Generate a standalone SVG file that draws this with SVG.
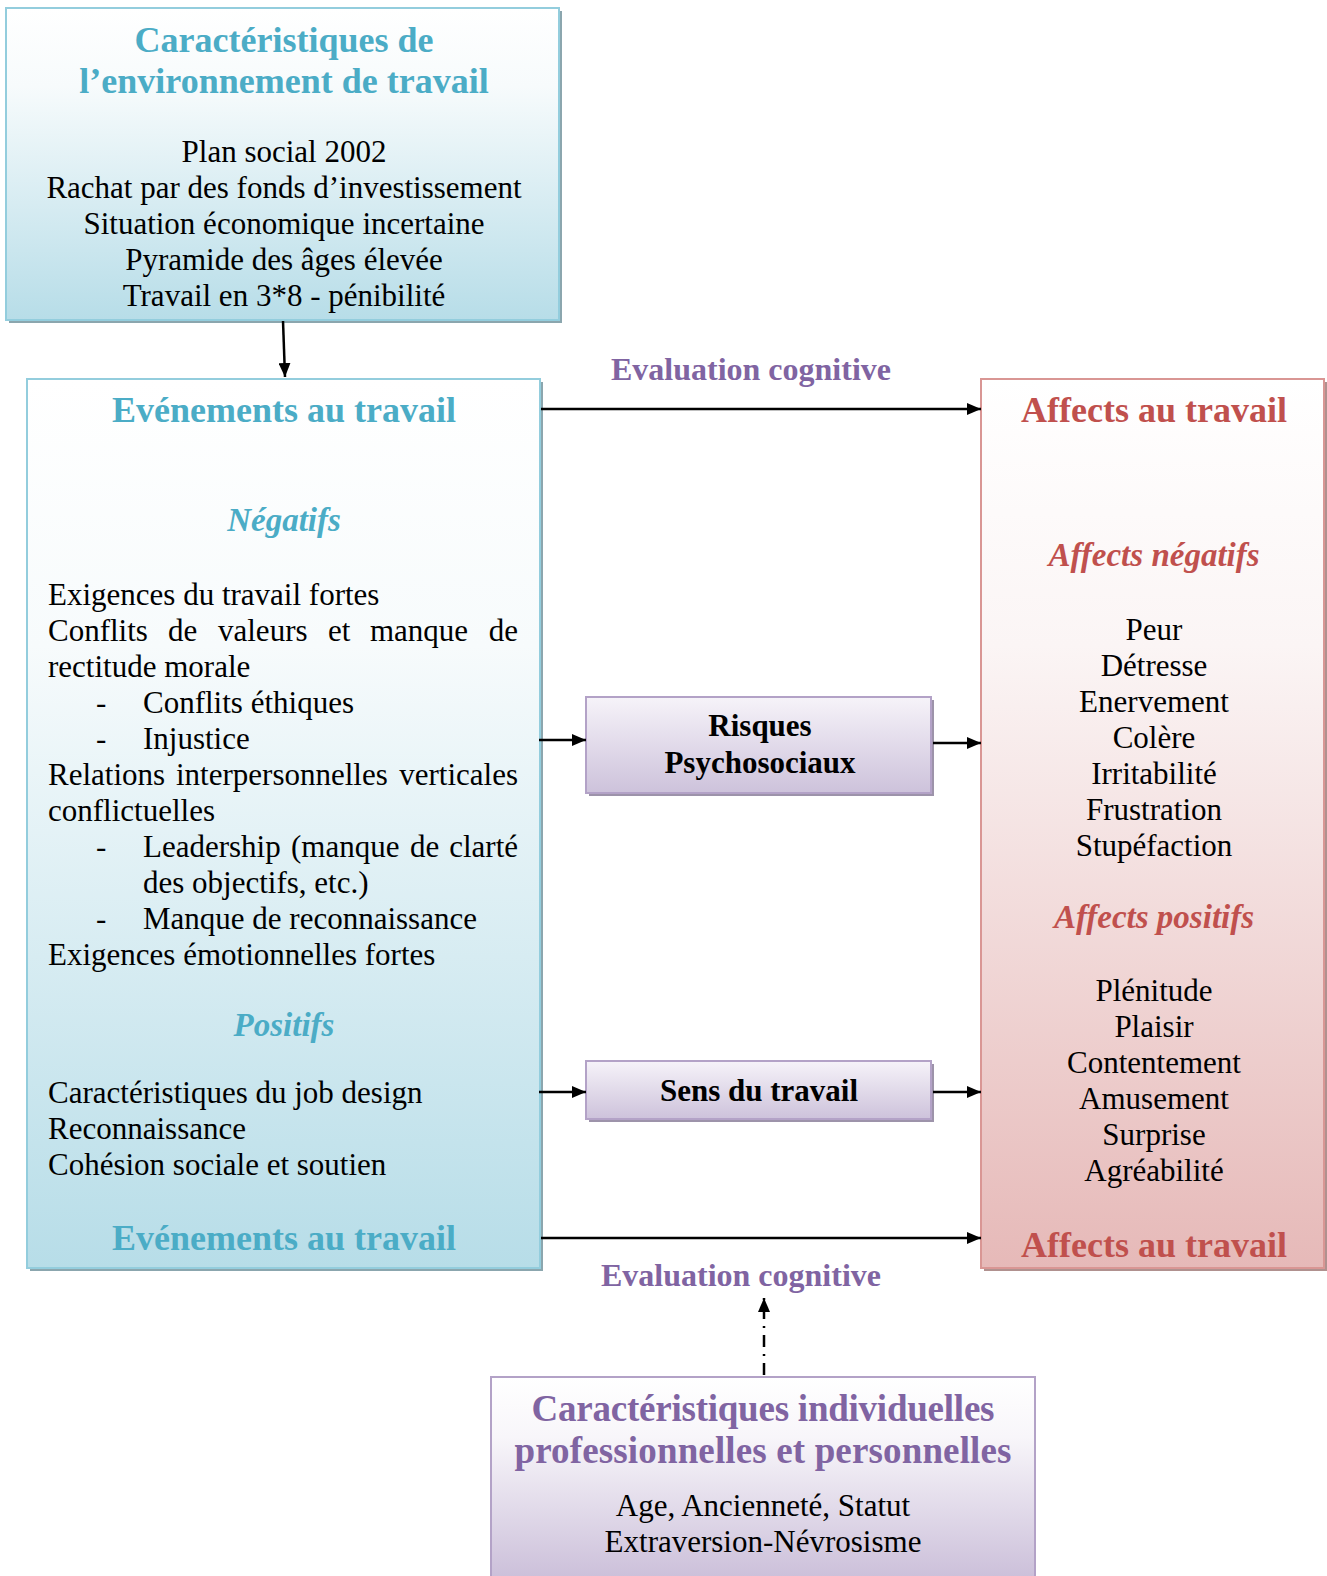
<svg xmlns="http://www.w3.org/2000/svg" width="1327" height="1576" viewBox="0 0 1327 1576">
<style>
text{font-family:"Liberation Serif","Times New Roman",serif;}
.body{font-size:31px;fill:#000;}
.c{text-anchor:middle;}
.e{text-anchor:end;}
.tb{font-size:36px;font-weight:bold;fill:#4BACC6;}
.tr{font-size:36px;font-weight:bold;fill:#C0504D;}
.tp{font-size:37px;font-weight:bold;fill:#8064A2;}
.sb{font-size:33px;font-weight:bold;font-style:italic;fill:#4BACC6;}
.sr{font-size:33px;font-weight:bold;font-style:italic;fill:#C0504D;}
.ev{font-size:32px;font-weight:bold;fill:#8064A2;}
.bx{font-size:31px;font-weight:bold;fill:#000;}
.conn{stroke:#000;stroke-width:2.5;fill:none;}
</style>
<defs>
<linearGradient id="gBlue1" x1="0" y1="0" x2="0" y2="1">
<stop offset="0" stop-color="#ffffff"/><stop offset="0.25" stop-color="#f7fbfc"/><stop offset="1" stop-color="#b7dde8"/>
</linearGradient>
<linearGradient id="gBlue2" x1="0" y1="0" x2="0" y2="1">
<stop offset="0" stop-color="#ffffff"/><stop offset="0.3" stop-color="#f7fbfc"/><stop offset="1" stop-color="#b7dde8"/>
</linearGradient>
<linearGradient id="gRed" x1="0" y1="0" x2="0" y2="1">
<stop offset="0" stop-color="#ffffff"/><stop offset="0.3" stop-color="#fbf5f5"/><stop offset="1" stop-color="#e6b9b8"/>
</linearGradient>
<linearGradient id="gPur" x1="0" y1="0" x2="0" y2="1">
<stop offset="0" stop-color="#f6f3f9"/><stop offset="1" stop-color="#cdc2db"/>
</linearGradient>
<linearGradient id="gPur2" x1="0" y1="0" x2="0" y2="1">
<stop offset="0" stop-color="#ffffff"/><stop offset="0.3" stop-color="#f8f6fa"/><stop offset="1" stop-color="#ccc0da"/>
</linearGradient>
<marker id="ah" markerUnits="userSpaceOnUse" markerWidth="14" markerHeight="12" refX="14" refY="6" orient="auto">
<path d="M0,0 L14,6 L0,12 z" fill="#000"/>
</marker>
</defs>

<g id="env">
<rect x="9" y="11" width="553" height="312" fill="#8ba6ae"/>
<rect x="6" y="8" width="553" height="312" fill="url(#gBlue1)" stroke="#93cddd" stroke-width="2"/>
<text class="tb c" x="284" y="52">Caractéristiques de</text>
<text class="tb c" x="284" y="93">l’environnement de travail</text>
<text class="body c" x="284" y="162">Plan social 2002</text>
<text class="body c" x="284" y="198">Rachat par des fonds d’investissement</text>
<text class="body c" x="284" y="234">Situation économique incertaine</text>
<text class="body c" x="284" y="270">Pyramide des âges élevée</text>
<text class="body c" x="284" y="306">Travail en 3*8 - pénibilité</text>
</g>

<g id="evenements">
<rect x="30" y="382" width="513" height="889" fill="#8ba6ae"/>
<rect x="27" y="379" width="513" height="889" fill="url(#gBlue2)" stroke="#93cddd" stroke-width="2"/>
<text class="tb c" x="284" y="422">Evénements au travail</text>
<text class="sb c" x="284" y="531">Négatifs</text>
<text class="body" x="48" y="605">Exigences du travail fortes</text>
<text class="body" x="48" y="641">Conflits</text>
<text class="body" x="168" y="641">de</text>
<text class="body" x="218" y="641">valeurs</text>
<text class="body" x="328" y="641">et</text>
<text class="body" x="370" y="641">manque</text>
<text class="body e" x="518" y="641">de</text>
<text class="body" x="48" y="677">rectitude morale</text>
<text class="body" x="96" y="713">-</text>
<text class="body" x="143" y="713">Conflits éthiques</text>
<text class="body" x="96" y="749">-</text>
<text class="body" x="143" y="749">Injustice</text>
<text class="body" x="48" y="785">Relations</text>
<text class="body" x="176" y="785">interpersonnelles</text>
<text class="body e" x="518" y="785">verticales</text>
<text class="body" x="48" y="821">conflictuelles</text>
<text class="body" x="96" y="857">-</text>
<text class="body" x="143" y="857">Leadership</text>
<text class="body" x="291" y="857">(manque</text>
<text class="body" x="410" y="857">de</text>
<text class="body e" x="518" y="857">clarté</text>
<text class="body" x="143" y="893">des objectifs, etc.)</text>
<text class="body" x="96" y="929">-</text>
<text class="body" x="143" y="929">Manque de reconnaissance</text>
<text class="body" x="48" y="965">Exigences émotionnelles fortes</text>
<text class="sb c" x="284" y="1036">Positifs</text>
<text class="body" x="48" y="1103">Caractéristiques du job design</text>
<text class="body" x="48" y="1139">Reconnaissance</text>
<text class="body" x="48" y="1175">Cohésion sociale et soutien</text>
<text class="tb c" x="284" y="1250">Evénements au travail</text>
</g>

<g id="affects">
<rect x="984" y="382" width="343" height="889" fill="#b0918f"/>
<rect x="981" y="379" width="343" height="889" fill="url(#gRed)" stroke="#d99694" stroke-width="2"/>
<text class="tr c" x="1154" y="422">Affects au travail</text>
<text class="sr c" x="1154" y="566">Affects négatifs</text>
<text class="body c" x="1154" y="640">Peur</text>
<text class="body c" x="1154" y="676">Détresse</text>
<text class="body c" x="1154" y="712">Enervement</text>
<text class="body c" x="1154" y="748">Colère</text>
<text class="body c" x="1154" y="784">Irritabilité</text>
<text class="body c" x="1154" y="820">Frustration</text>
<text class="body c" x="1154" y="856">Stupéfaction</text>
<text class="sr c" x="1154" y="928">Affects positifs</text>
<text class="body c" x="1154" y="1001">Plénitude</text>
<text class="body c" x="1154" y="1037">Plaisir</text>
<text class="body c" x="1154" y="1073">Contentement</text>
<text class="body c" x="1154" y="1109">Amusement</text>
<text class="body c" x="1154" y="1145">Surprise</text>
<text class="body c" x="1154" y="1181">Agréabilité</text>
<text class="tr c" x="1154" y="1257">Affects au travail</text>
</g>

<g id="risques">
<rect x="589" y="700" width="345" height="96" fill="#9d93aa"/>
<rect x="586" y="697" width="345" height="96" fill="url(#gPur)" stroke="#b3a2c7" stroke-width="2"/>
<text class="bx c" x="760" y="736">Risques</text>
<text class="bx c" x="760" y="773">Psychosociaux</text>
</g>

<g id="sens">
<rect x="589" y="1064" width="345" height="58" fill="#9d93aa"/>
<rect x="586" y="1061" width="345" height="58" fill="url(#gPur)" stroke="#b3a2c7" stroke-width="2"/>
<text class="bx c" x="759" y="1101">Sens du travail</text>
</g>

<g id="individuelles">
<rect x="491" y="1377" width="544" height="200" fill="url(#gPur2)" stroke="#b3a2c7" stroke-width="2"/>
<text class="tp c" x="763" y="1421" textLength="463">Caractéristiques individuelles</text>
<text class="tp c" x="763" y="1463" textLength="497">professionnelles et personnelles</text>
<text class="body c" x="763" y="1516">Age, Ancienneté, Statut</text>
<text class="body c" x="763" y="1552">Extraversion-Névrosisme</text>
</g>

<g id="labels">
<text class="ev c" x="751" y="380">Evaluation cognitive</text>
<text class="ev c" x="741" y="1286">Evaluation cognitive</text>
</g>

<g id="connectors">
<line class="conn" x1="283" y1="321" x2="285" y2="377" marker-end="url(#ah)"/>
<line class="conn" x1="541" y1="409" x2="981" y2="409" marker-end="url(#ah)"/>
<line class="conn" x1="539" y1="740" x2="586" y2="740" marker-end="url(#ah)"/>
<line class="conn" x1="933" y1="743" x2="981" y2="743" marker-end="url(#ah)"/>
<line class="conn" x1="539" y1="1092" x2="586" y2="1092" marker-end="url(#ah)"/>
<line class="conn" x1="933" y1="1092" x2="981" y2="1092" marker-end="url(#ah)"/>
<line class="conn" x1="541" y1="1238" x2="981" y2="1238" marker-end="url(#ah)"/>
<line class="conn" x1="764" y1="1375" x2="764" y2="1298" stroke-dasharray="12,7,2,7" marker-end="url(#ah)"/>
</g>
</svg>
